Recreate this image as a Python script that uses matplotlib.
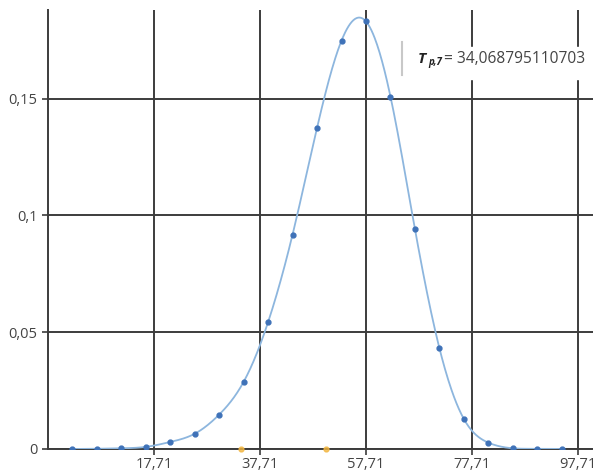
#!/usr/bin/env python3
import numpy as np
import matplotlib
matplotlib.use('Agg')
from matplotlib import pyplot as plt

# data
xs = [2.27, 6.89, 11.51, 16.13, 20.75, 25.37, 29.99, 34.61, 39.23, 43.85, 48.47,
      53.09, 57.71, 62.33, 66.95, 71.57, 76.19, 80.81, 85.43, 90.05, 94.67]
ys = [0.0, 0.0001, 0.0003, 0.0009, 0.003, 0.0065, 0.0147, 0.0287, 0.0543, 0.0918,
      0.1375, 0.1749, 0.1831, 0.1509, 0.0941, 0.0431, 0.0128, 0.0027, 0.0003,
      0.0001, 0.0]
marks_x = [34.07, 50.1]
marks_y = [0.0, 0.0]
xticks = [17.71, 37.71, 57.71, 77.71, 97.71]
xtick_labels = ['17,71', '37,71', '57,71', '77,71', '97,71']
yticks = [0.0, 0.05, 0.1, 0.15]
ytick_labels = ['0', '0,05', '0,1', '0,15']
t_value = '34,068795110703'

W, H = 593, 474
LINE = '#3c3c3c'
TXT = '#444444'


def natural_spline(x, y, n=600):
    x = np.asarray(x, float)
    y = np.asarray(y, float)
    k = len(x)
    h = np.diff(x)
    A = np.zeros((k, k))
    b = np.zeros(k)
    A[0, 0] = A[-1, -1] = 1
    for i in range(1, k - 1):
        A[i, i - 1] = h[i - 1]
        A[i, i] = 2 * (h[i - 1] + h[i])
        A[i, i + 1] = h[i]
        b[i] = 3 * ((y[i + 1] - y[i]) / h[i] - (y[i] - y[i - 1]) / h[i - 1])
    c = np.linalg.solve(A, b)
    xx = np.linspace(x[0], x[-1], n)
    idx = np.clip(np.searchsorted(x, xx) - 1, 0, k - 2)
    dx = xx - x[idx]
    bb = (y[idx + 1] - y[idx]) / h[idx] - h[idx] * (2 * c[idx] + c[idx + 1]) / 3
    dd = (c[idx + 1] - c[idx]) / (3 * h[idx])
    return xx, y[idx] + bb * dx + c[idx] * dx ** 2 + dd * dx ** 3


plt.rcParams['font.family'] = ['Open Sans', 'DejaVu Sans']

fig = plt.figure(figsize=(W / 100, H / 100), dpi=100)
ax = fig.add_axes([48 / W, 25 / H, 1 - 48 / W, 439 / H])

ax.set_xlim(-2.29, 100.54)
ax.set_ylim(0, 0.188)

ax.set_xticks(xticks)
ax.set_xticklabels(xtick_labels)
ax.set_yticks(yticks)
ax.set_yticklabels(ytick_labels)
ax.grid(True, color=LINE, linewidth=1.4)
ax.set_axisbelow(True)
ax.tick_params(length=4, width=1.2, color=LINE, labelcolor=TXT,
               labelsize=10.5, pad=2)
ax.tick_params(axis='y', pad=3.5)

for s in ('top', 'right'):
    ax.spines[s].set_visible(False)
for s in ('left', 'bottom'):
    ax.spines[s].set_color(LINE)
    ax.spines[s].set_linewidth(1.4)

sx, sy = natural_spline(xs, ys)
ax.plot(sx, sy, color='#8db6de', linewidth=1.3, zorder=3)
ax.plot(xs, ys, 'o', color='#3f72b8', markersize=3.5, zorder=4)
ax.plot(marks_x, marks_y, 'o', color='#f2b640', markersize=3.5, alpha=0.8,
        zorder=4, clip_on=False)

# value label at top right
fig.patches.append(plt.Rectangle((405 / W, 1 - 79 / H), 188 / W, 32 / H,
                                 transform=fig.transFigure, color='white',
                                 zorder=5))
fig.add_artist(plt.Line2D([402 / W, 402 / W], [1 - 42 / H, 1 - 75 / H],
                          color='#c8c8c8', linewidth=1.5, zorder=6))
fig.text(418 / W, 1 - 59 / H, 'T', fontsize=11, fontweight='bold',
         style='italic', color='#222222', va='center', zorder=6)
fig.text(428 / W, 1 - 63 / H, 'p,7', fontsize=7, fontweight='bold',
         style='italic', color='#222222', va='center', zorder=6)
fig.text(444 / W, 1 - 59 / H, '= ' + t_value, fontsize=11.2, color=TXT,
         va='center', zorder=6)

fig.savefig('out.png', dpi=100)
